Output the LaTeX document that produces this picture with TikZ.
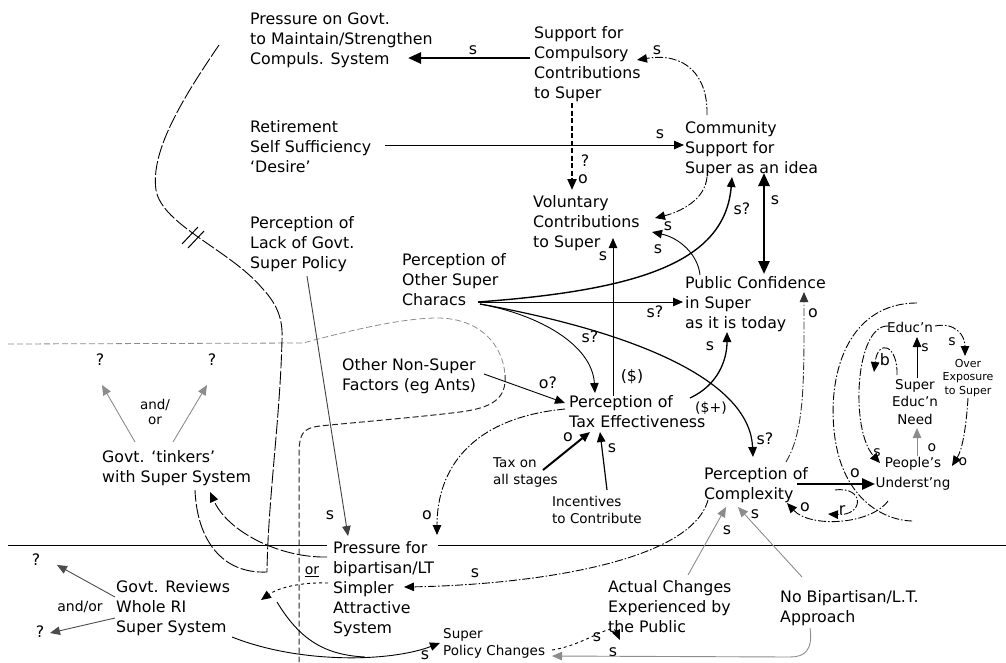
\documentclass[tikz,border=0pt]{standalone}
\usepackage{fontspec}
\setmainfont{DejaVu Sans}
\usetikzlibrary{arrows.meta}

\tikzset{
  txt/.style={inner sep=0pt, anchor=north west, align=left, font=\fontsize{15.8}{20}\selectfont},
  txtsm/.style={inner sep=0pt, anchor=north west, align=left, font=\fontsize{13.5}{17.5}\selectfont},
  ctr/.style={inner sep=0pt, align=center, font=\fontsize{13.5}{17.5}\selectfont},
  lbl/.style={inner sep=0pt, font=\fontsize{15.8}{18}\selectfont},
  lblsm/.style={inner sep=0pt, font=\fontsize{14}{16}\selectfont},
  arrowtip/.style={-{Triangle[length=10pt,width=8.5pt]}},
  link/.style={line width=0.9pt, arrowtip},
  faint/.style={link, draw=black!45},
  heavy/.style={line width=2.6pt, -{Triangle[length=13pt,width=11pt]}},
  dd/.style={dash pattern=on 8pt off 2pt on 1.5pt off 2pt},
  lnd/.style={dash pattern=on 14pt off 2.5pt},
  dsh/.style={dash pattern=on 6pt off 3pt},
}

\begin{document}
\begin{tikzpicture}[x=1pt,y=-1pt]
\useasboundingbox (0,0) rectangle (1006,662);

% ---------- variables ----------
\node[txt] (pgov)   at (250,13)  {Pressure on Govt.\\to Maintain/Strengthen\\Compuls. System};
\node[txt] (supc)   at (534,26)  {Support for\\Compulsory\\Contributions\\to Super};
\node[txt] (retire) at (250,120) {Retirement\\Self Sufficiency\\‘Desire’};
\node[txt] (comm)   at (685,121) {Community\\Support for\\Super as an idea};
\node[txt] (vol)    at (533,195) {Voluntary\\Contributions\\to Super};
\node[txt] (lack)   at (250,216) {Perception of\\Lack of Govt.\\Super Policy};
\node[txt] (other)  at (402,253) {Perception of\\Other Super\\Characs};
\node[txt] (pubc)   at (685,276) {Public Confidence\\in Super\\as it is today};
\node[txt] (nonsup) at (342,358) {Other Non-Super\\Factors (eg Ants)};
\node[txt] (taxeff) at (569,395) {Perception of\\Tax Effectiveness};
\node[txtsm] (taxall) at (493,457) {Tax on\\all stages};
\node[txtsm] (incent) at (552,496) {Incentives\\to Contribute};
\node[txt] (tinker) at (102,450) {Govt. ‘tinkers’\\with Super System};
\node[txt] (cmplx)  at (704,467) {Perception of\\Complexity};
\node[txt] (press)  at (333,541) {Pressure for\\bipartisan/LT\\Simpler\\Attractive\\System};
\node[txt] (review) at (116,580) {Govt. Reviews\\Whole RI\\Super System};
\node[txt] (actual) at (608,580) {Actual Changes\\Experienced by\\the Public};
\node[txt] (nobip)  at (780,590) {No Bipartisan/L.T.\\Approach};
\node[txtsm] (policy) at (443,628) {Super\\Policy Changes};
\node[ctr] (educ)   at (910,327) {Educ’n};
\node[ctr] (need)   at (915,402) {Super\\Educ’n\\Need};
\node[ctr, font=\fontsize{11}{13.5}\selectfont] (over) at (968,378) {Over\\Exposure\\to Super};
\node[ctr, font=\fontsize{13.5}{20}\selectfont] (people) at (913,474) {People’s\\Underst’ng};
\node[lbl] (q1) at (100,360) {?};
\node[lbl] (q2) at (212,360) {?};
\node[lbl] (q3) at (36,560) {?};
\node[lbl] (q4) at (40,632) {?};
\node[ctr, font=\fontsize{13.5}{15.5}\selectfont] (andor1) at (155,412) {and/\\or};
\node[lblsm] (andor2) at (80,607) {and/or};

% ---------- link polarity labels ----------
\node[lbl] (l1)  at (473,50)  {s};
\node[lbl] (l2)  at (657,50)  {s};
\node[lbl] (l3)  at (660,134) {s};
\node[lbl] (l4)  at (585,161) {?};
\node[lbl] (l5)  at (583,179) {o};
\node[lbl] (l6)  at (668,226) {s};
\node[lbl] (l7)  at (658,249) {s};
\node[lbl] (l8)  at (742,209) {s?};
\node[lbl] (l9)  at (775,200) {s};
\node[lbl] (l10) at (603,256) {s};
\node[lbl] (l11) at (655,312) {s?};
\node[lbl] (l12) at (590,337) {s?};
\node[lbl] (l13) at (632,377) {(\$)};
\node[lbl] (l14) at (548,383) {o?};
\node[lbl] (l15) at (813,313) {o};
\node[lbl] (l16) at (710,346) {s};
\node[lblsm] (l17) at (711,408) {(\$+)};
\node[lbl] (l18) at (765,439) {s?};
\node[lbl] (l19) at (568,437) {o};
\node[lbl] (l20) at (612,448) {s};
\node[lbl] (l21) at (330,515) {s};
\node[lbl] (l22) at (427,515) {o};
\node[lbl] (l23) at (475,573) {s};
\node[lbl] (l24) at (727,530) {s};
\node[lbl] (l25) at (755,514) {s};
\node[lbl] (l26) at (855,473) {o};
\node[lbl] (l27) at (805,507) {o};
\node[lbl] (l28) at (842,510) {r};
\node[lbl] (l29) at (885,360) {b};
\node[lblsm] (l30) at (925,348) {s};
\node[lblsm] (l31) at (932,448) {o};
\node[lblsm] (l32) at (877,453) {s};
\node[lblsm] (l33) at (952,342) {s};
\node[lblsm] (l34) at (963,462) {o};
\node[lblsm] (l35) at (312,572) {\underline{or}};
\node[lbl] (l36) at (425,655) {s};
\node[lbl] (l37) at (597,637) {s};
\node[lbl] (l38) at (613,652) {s};

% ---------- region boundaries ----------
\draw[line width=1pt] (8,545) -- ([shift={(-6,4)}]press.north west);
\draw[line width=1pt] ([shift={(105,4)}]press.north west) -- (1006,545);
\draw[black!45, dsh, line width=0.8pt] (8,344) -- (303,343)
  .. controls (340,333) and (400,318) .. (437,318)
  .. controls (480,318) and (503,345) .. (505,375);
\draw[black!85, dsh, line width=1pt] (505,375)
  .. controls (507,400) and (490,408) .. (460,412)
  .. controls (420,417) and (360,422) .. (320,426)
  .. controls (302,428) and (300,435) .. (299,450) -- (299,662);

% ---------- connectors, upper part ----------
\draw[heavy] ([shift={(-4,32)}]supc.north west) -- ([shift={(158,45)}]pgov.north west);
\draw[link, dd] ([shift={(22,-6)}]comm.north west) .. controls (708,75) and (685,52) .. ([shift={(103,34)}]supc.north west);
\draw[link] ([shift={(135,25)}]retire.north west) -- ([shift={(-1,24)}]comm.north west);
\draw[line width=2.2pt, dash pattern=on 5pt off 2.5pt, -{Triangle[length=11pt,width=9pt]}]
  ([shift={(38,77)}]supc.north west) -- ([shift={(39,-5)}]vol.north west);
\draw[link, dd] ([shift={(22,56)}]comm.north west) .. controls (705,200) and (680,212) .. ([shift={(122,23)}]vol.north west);
\draw[link] ([shift={(15,-1)}]pubc.north west) .. controls (698,255) and (680,238) .. ([shift={(119,37)}]vol.north west);
\draw[link, line width=1.4pt] ([shift={(76,49)}]other.north west) .. controls (640,290) and (725,262) .. ([shift={(47,56)}]comm.north west);
\draw[line width=2.6pt, {Triangle[length=13pt,width=11pt]}-{Triangle[length=13pt,width=11pt]}]
  ([shift={(79,52)}]comm.north west) -- ([shift={(79,-2)}]pubc.north west);
\draw[link] ([shift={(44,1)}]taxeff.north west) -- ([shift={(80,43)}]vol.north west);
\draw[link] ([shift={(76,49)}]other.north west) -- ([shift={(-2,26)}]pubc.north west);
\draw[link] ([shift={(78,51)}]other.north west) .. controls (540,315) and (592,345) .. ([shift={(26,-2)}]taxeff.north west);
\draw[link, line width=1.2pt] ([shift={(78,51)}]other.north west) .. controls (650,335) and (750,385) .. ([shift={(49,-10)}]cmplx.north west);
\draw[link] ([shift={(142,16)}]nonsup.north west) -- ([shift={(-4,8)}]taxeff.north west);
\draw[link, line width=2pt] ([shift={(50,13)}]taxall.north west) -- ([shift={(21,37)}]taxeff.north west);
\draw[link, line width=1.2pt] ([shift={(55,-6)}]incent.north west) -- ([shift={(31,37)}]taxeff.north west);
\draw[link, line width=1.3pt] ([shift={(121,3)}]taxeff.north west) .. controls (718,385) and (727,360) .. ([shift={(42,56)}]pubc.north west);
\draw[link, dd] ([shift={(-4,14)}]taxeff.north west) .. controls (470,418) and (437,470) .. ([shift={(104,-6)}]press.north west);
\draw[link, draw=black!75] ([shift={(57,60)}]lack.north west) -- ([shift={(15,-5)}]press.north west);
\draw[link, dd] ([shift={(4,33)}]cmplx.north west) .. controls (690,565) and (520,585) .. ([shift={(71,46)}]press.north west);
\draw[link, dd, draw=black!80] ([shift={(82,-5)}]cmplx.north west) .. controls (805,430) and (804,380) .. ([shift={(119,16)}]pubc.north west);

% ---------- understanding / education loops ----------
\draw[heavy] ([shift={(93,17)}]cmplx.north west) -- ([shift={(-38,10)}]people.center);
\draw[link, dd] ([shift={(-25,27)}]people.center) .. controls (870,525) and (810,528) .. ([shift={(83,36)}]cmplx.north west);
\draw[link, dd] ([shift={(-7,-20)}]l28.center) .. controls (865,486) and (864,516) .. ([shift={(-14,4)}]l28.center);
\draw[dd, line width=0.9pt] (917,303) .. controls (850,303) and (828,370) .. (834,430)
  .. controls (840,495) and (880,520) .. (912,521);
\draw[link, dd] ([shift={(-22,-1)}]educ.center) .. controls (855,325) and (850,430) .. ([shift={(-33,-11)}]people.center);
\draw[link, dd] ([shift={(25,-1)}]educ.center) .. controls (955,322) and (965,335) .. ([shift={(-3,-22)}]over.center);
\draw[link, dd] ([shift={(0,20)}]over.center) .. controls (966,430) and (962,450) .. ([shift={(39,-8)}]people.center);
\draw[link] ([shift={(2,-24)}]need.center) -- ([shift={(7,10)}]educ.center);
\draw[faint] ([shift={(4,-18)}]people.center) -- ([shift={(2,26)}]need.center);
\draw[link, dd] ([shift={(12,15)}]l29.center) .. controls (898,345) and (878,338) .. ([shift={(-11,12)}]l29.center);

% ---------- lower part ----------
\draw[faint] ([shift={(80,-5)}]actual.north west) -- ([shift={(22,40)}]cmplx.north west);
\draw[faint] ([shift={(22,-13)}]nobip.north west) -- ([shift={(34,40)}]cmplx.north west);
\draw[faint] ([shift={(30,38)}]nobip.north west) .. controls (813,650) and (805,657) .. (790,657) -- ([shift={(109,28)}]policy.north west);
\draw[link, dashed] ([shift={(109,22)}]policy.north west) .. controls (585,645) and (612,622) .. ([shift={(12,60)}]actual.north west);
\draw[link] ([shift={(116,57)}]review.north west) .. controls (300,664) and (390,662) .. ([shift={(-3,15)}]policy.north west);
\coordinate (merge) at (365,657);
\draw[line width=0.9pt] ([shift={(161,22)}]review.north west) .. controls (300,640) and (325,655) .. (merge);
\draw[link, dashed] ([shift={(-5,42)}]press.north west) .. controls (300,582) and (278,588) .. ([shift={(145,20)}]review.north west);
\draw[link, lnd] ([shift={(-6,16)}]press.north west) .. controls (280,558) and (228,532) .. ([shift={(108,42)}]tinker.north west);
\draw[lnd, line width=0.9pt] ([shift={(-31,32)}]pgov.north west)
  .. controls (185,95) and (150,150) .. (156,190)
  .. controls (162,225) and (230,250) .. (262,288)
  .. controls (278,305) and (283,320) .. (282,340)
  .. controls (280,420) and (268,500) .. (267,572)
  .. controls (222,574) and (197,540) .. ([shift={(93,40)}]tinker.north west);
% delay mark
\draw[line width=1pt] (182,244) -- (198,227);
\draw[line width=1pt] (188,248) -- (204,231);

% ---------- government response options ----------
\draw[faint] ([shift={(33,-8)}]tinker.north west) -- ([shift={(2,25)}]q1.center);
\draw[faint] ([shift={(71,-8)}]tinker.north west) -- ([shift={(-5,25)}]q2.center);
\draw[link, draw=black!70] ([shift={(-1,17)}]review.north west) -- ([shift={(21,5)}]q3.center);
\draw[link, draw=black!70] ([shift={(-1,38)}]review.north west) -- ([shift={(10,1)}]q4.center);
\end{tikzpicture}
\end{document}
